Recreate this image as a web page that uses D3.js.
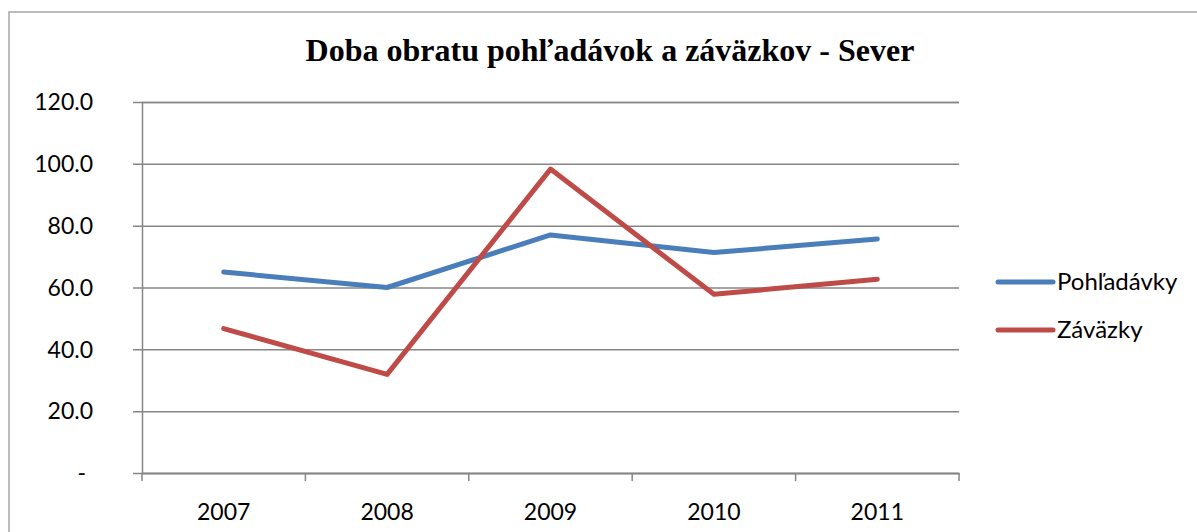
<!DOCTYPE html>
<html>
<head>
<meta charset="utf-8">
<script src="https://cdn.jsdelivr.net/npm/d3@7"></script>
<style>
  html, body { margin: 0; padding: 0; background: #fff; }
  svg { display: block; }
</style>
</head>
<body>
<div id="chart"></div>
<script>
// chart data
const years = ["2007", "2008", "2009", "2010", "2011"];
const pohladavky = [65.0, 60.0, 77.0, 71.3, 75.7];
const zavazky = [46.7, 31.9, 98.3, 57.8, 62.7];
const yTicks = [0, 20, 40, 60, 80, 100, 120];
const seriesNames = ["Pohľadávky", "Záväzky"];
const seriesColors = ["#4a7ebb", "#be4b48"];

const W = 1197, H = 532;
const margin = { top: 102, right: 238, bottom: 59, left: 142 };
const width = W - margin.left - margin.right;
const height = H - margin.top - margin.bottom;

const root = d3.select("#chart").append("svg")
    .attr("width", W)
    .attr("height", H);

// outer chart border (runs off the right/bottom of the picture)
root.append("rect")
    .attr("x", 9).attr("y", 12)
    .attr("width", 1250).attr("height", 600)
    .attr("fill", "none")
    .attr("stroke", "#a6a6a6")
    .attr("stroke-width", 1.5);

root.append("text")
    .attr("x", 610)
    .attr("y", 61)
    .attr("text-anchor", "middle")
    .attr("font-family", "'Liberation Serif', 'Times New Roman', serif")
    .attr("font-weight", "bold")
    .attr("font-size", "32px")
    .attr("fill", "#000")
    .text("Doba obratu pohľadávok a záväzkov - Sever");

const svg = root.append("g")
    .attr("transform", `translate(${margin.left},${margin.top})`);

const x = d3.scaleBand()
    .domain(years)
    .range([0, width]);

const y = d3.scaleLinear()
    .domain([0, 120])
    .range([height, 0]);

// horizontal grid lines + y labels
const yAxis = svg.append("g")
    .call(d3.axisLeft(y)
        .tickValues(yTicks)
        .tickSize(-width)
        .tickPadding(49)
        .tickFormat(d => d === 0 ? "-" : d3.format(".1f")(d)));
yAxis.select(".domain").attr("stroke", "#868686").attr("stroke-width", 1.5);
yAxis.selectAll(".tick line")
    .attr("x1", -9)
    .attr("stroke", "#868686")
    .attr("stroke-width", 1.5);
yAxis.selectAll(".tick text")
    .attr("font-family", "Lato, 'Open Sans', sans-serif")
    .attr("font-size", "23px")
    .attr("fill", "#000")
    .attr("dy", "0.34em")
    .attr("dx", d => d === 0 ? -7 : 0);

// x axis with category ticks between bands
const xAxis = svg.append("g")
    .attr("transform", `translate(0,${height})`)
    .call(d3.axisBottom(x).tickSize(0).tickPadding(31));
xAxis.select(".domain").attr("stroke", "#868686").attr("stroke-width", 1.5);
xAxis.selectAll(".tick text")
    .attr("font-family", "Lato, 'Open Sans', sans-serif")
    .attr("font-size", "23px")
    .attr("fill", "#000");
xAxis.selectAll(".sep")
    .data(d3.range(years.length + 1))
    .join("line")
    .attr("class", "sep")
    .attr("x1", i => i * x.step())
    .attr("x2", i => i * x.step())
    .attr("y1", 0)
    .attr("y2", 8)
    .attr("stroke", "#868686")
    .attr("stroke-width", 1.5);

// lines
const line = d3.line()
    .x((d, i) => x(years[i]) + x.bandwidth() / 2)
    .y(d => y(d));

[pohladavky, zavazky].forEach((vals, k) => {
    svg.append("path")
        .datum(vals)
        .attr("d", line)
        .attr("fill", "none")
        .attr("stroke", seriesColors[k])
        .attr("stroke-width", 5)
        .attr("stroke-linecap", "round")
        .attr("stroke-linejoin", "round");
});

// legend
const legend = root.append("g").attr("transform", "translate(998,282)");
seriesNames.forEach((name, k) => {
    const g = legend.append("g").attr("transform", `translate(0,${k * 48})`);
    g.append("line")
        .attr("x1", 0).attr("x2", 55)
        .attr("stroke", seriesColors[k])
        .attr("stroke-width", 5)
        .attr("stroke-linecap", "round");
    g.append("text")
        .attr("x", 59)
        .attr("dy", "0.35em")
        .attr("font-family", "Lato, 'Open Sans', sans-serif")
        .attr("font-size", "24px")
        .attr("fill", "#000")
        .text(name);
});
</script>
</body>
</html>
